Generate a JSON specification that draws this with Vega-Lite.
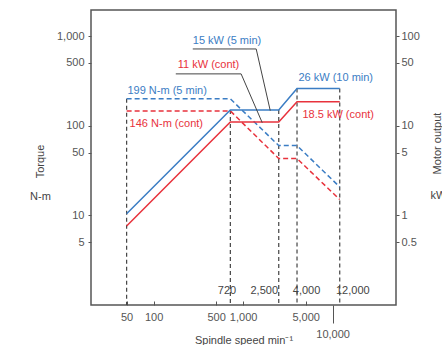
{
  "$schema": "https://vega.github.io/schema/vega-lite/v6.json",
  "width": 305,
  "height": 295,
  "autosize": {"type": "none"},
  "padding": {"left": 91, "top": 10, "right": 46, "bottom": 40},
  "config": {
    "font": "Liberation Sans",
    "view": {"stroke": "#555", "strokeWidth": 1.5},
    "axis": {
      "grid": false,
      "domain": false,
      "labelFont": "Liberation Sans",
      "labelFontSize": 11,
      "labelColor": "#555",
      "tickColor": "#555",
      "titleFont": "Liberation Sans",
      "titleFontSize": 11,
      "titleFontWeight": "normal",
      "titleColor": "#444"
    }
  },
  "datasets": {
    "vlines": [
      {"x": 50, "top": 199},
      {"x": 720, "top": 150},
      {"x": 2500, "top": 150},
      {"x": 4000, "top": 260},
      {"x": 12000, "top": 260}
    ],
    "torque": [
      {"x": 50, "y": 199, "series": "5 min"},
      {"x": 720, "y": 199, "series": "5 min"},
      {"x": 2500, "y": 60, "series": "5 min"},
      {"x": 4000, "y": 60, "series": "5 min"},
      {"x": 12000, "y": 20.7, "series": "5 min"},
      {"x": 50, "y": 146, "series": "cont"},
      {"x": 720, "y": 146, "series": "cont"},
      {"x": 2500, "y": 43, "series": "cont"},
      {"x": 4000, "y": 43, "series": "cont"},
      {"x": 12000, "y": 15, "series": "cont"}
    ],
    "power": [
      {"x": 50, "kw": 1.04, "series": "5 min"},
      {"x": 720, "kw": 15, "series": "5 min"},
      {"x": 2500, "kw": 15, "series": "5 min"},
      {"x": 4000, "kw": 26, "series": "5 min"},
      {"x": 12000, "kw": 26, "series": "5 min"},
      {"x": 50, "kw": 0.76, "series": "cont"},
      {"x": 720, "kw": 11, "series": "cont"},
      {"x": 2500, "kw": 11, "series": "cont"},
      {"x": 4000, "kw": 18.5, "series": "cont"},
      {"x": 12000, "kw": 18.5, "series": "cont"}
    ],
    "leaders": [
      {"id": "a", "x": 274, "y": 717, "o": 1},
      {"id": "a", "x": 1400, "y": 717, "o": 2},
      {"id": "a", "x": 2010, "y": 147, "o": 3},
      {"id": "b", "x": 177, "y": 378, "o": 1},
      {"id": "b", "x": 950, "y": 378, "o": 2},
      {"id": "b", "x": 1635, "y": 108, "o": 3}
    ],
    "notes": [
      {"x": 274, "y": 880, "label": "15 kW (5 min)", "series": "5 min"},
      {"x": 186, "y": 476, "label": "11 kW (cont)", "series": "cont"},
      {"x": 51, "y": 245, "label": "199 N-m (5 min)", "series": "5 min"},
      {"x": 54, "y": 105, "label": "146 N-m (cont)", "series": "cont"},
      {"x": 4150, "y": 341, "label": "26 kW (10 min)", "series": "5 min"},
      {"x": 4600, "y": 132, "label": "18.5 kW (cont)", "series": "cont"}
    ],
    "speeds": [
      {"x": 661, "y": 1.43, "label": "720"},
      {"x": 1722, "y": 1.43, "label": "2,500"},
      {"x": 5110, "y": 1.43, "label": "4,000"},
      {"x": 16800, "y": 1.43, "label": "12,000"}
    ]
  },
  "layer": [
    {
      "data": {"name": "vlines"},
      "mark": {"type": "rule", "color": "#444", "strokeWidth": 1.2, "strokeDash": [4, 3]},
      "encoding": {
        "x": {
          "field": "x", "type": "quantitative",
          "scale": {"type": "log", "domain": [20, 51000]},
          "axis": {
            "values": [50, 100, 500, 1000, 5000, 10000],
            "format": ",~r",
            "tickSize": {"condition": {"test": "datum.value === 10000", "value": 18}, "value": -4},
            "labelPadding": {"condition": {"test": "datum.value === 10000", "value": 5}, "value": 10},
            "labelFlush": false,
            "labelOverlap": false,
            "title": "Spindle speed min⁻¹",
            "titleY": 35,
            "titleBaseline": "middle"
          }
        },
        "y": {
          "field": "top", "type": "quantitative",
          "scale": {"type": "log", "domain": [1, 1950]},
          "axis": {
            "orient": "left",
            "title": "N-m",
            "labels": false,
            "ticks": false,
            "titleAngle": 0,
            "titleX": -51,
            "titleY": 186,
            "titleAlign": "center",
            "titleBaseline": "middle"
          }
        },
        "y2": {"datum": 1}
      }
    },
    {
      "data": {"name": "torque"},
      "mark": {"type": "line", "strokeWidth": 1.5, "strokeDash": [5, 3]},
      "encoding": {
        "x": {"field": "x", "type": "quantitative", "scale": {"type": "log", "domain": [20, 51000]}},
        "y": {
          "field": "y", "type": "quantitative",
          "scale": {"type": "log", "domain": [1, 1950]},
          "axis": {
            "orient": "left",
            "values": [5, 10, 50, 100, 500, 1000],
            "format": ",~r",
            "tickSize": 3,
            "labelPadding": 4,
            "title": "Torque",
            "titleAngle": -90,
            "titleX": -51,
            "titleY": 151,
            "titleAlign": "center",
            "titleBaseline": "middle"
          }
        },
        "color": {
          "field": "series", "type": "nominal",
          "scale": {"domain": ["5 min", "cont"], "range": ["#3b7dc4", "#e8323c"]},
          "legend": null
        }
      }
    },
    {
      "data": {"name": "power"},
      "mark": {"type": "line", "strokeWidth": 1.5},
      "encoding": {
        "x": {"field": "x", "type": "quantitative", "scale": {"type": "log", "domain": [20, 51000]}},
        "y": {
          "field": "kw", "type": "quantitative",
          "scale": {"type": "log", "domain": [0.1, 195]},
          "axis": {
            "orient": "right",
            "values": [0.5, 1, 5, 10, 50, 100],
            "format": ",~r",
            "tickSize": 3,
            "labelPadding": 2,
            "title": "Motor output",
            "titleAngle": -90,
            "titleX": 41,
            "titleY": 133,
            "titleAlign": "center",
            "titleBaseline": "middle"
          }
        },
        "color": {"field": "series", "type": "nominal", "legend": null}
      }
    },
    {
      "data": {"name": "leaders"},
      "mark": {"type": "line", "color": "#444", "strokeWidth": 1},
      "encoding": {
        "x": {"field": "x", "type": "quantitative", "scale": {"type": "log", "domain": [20, 51000]}},
        "y": {
          "field": "y", "type": "quantitative",
          "scale": {"type": "log", "domain": [1, 1950]},
          "axis": {
            "orient": "right",
            "title": "kW",
            "labels": false,
            "ticks": false,
            "titleAngle": 0,
            "titleX": 34,
            "titleY": 185,
            "titleAlign": "left",
            "titleBaseline": "middle"
          }
        },
        "detail": {"field": "id", "type": "nominal"},
        "order": {"field": "o", "type": "quantitative"}
      }
    },
    {
      "data": {"name": "notes"},
      "mark": {"type": "text", "align": "left", "baseline": "middle", "fontSize": 11},
      "encoding": {
        "x": {"field": "x", "type": "quantitative", "scale": {"type": "log", "domain": [20, 51000]}},
        "y": {"field": "y", "type": "quantitative", "scale": {"type": "log", "domain": [1, 1950]}, "axis": null},
        "text": {"field": "label", "type": "nominal"},
        "color": {"field": "series", "type": "nominal", "legend": null}
      }
    },
    {
      "data": {"name": "speeds"},
      "mark": {"type": "text", "align": "center", "baseline": "middle", "fontSize": 11, "color": "#444"},
      "encoding": {
        "x": {"field": "x", "type": "quantitative", "scale": {"type": "log", "domain": [20, 51000]}},
        "y": {"field": "y", "type": "quantitative", "scale": {"type": "log", "domain": [1, 1950]}, "axis": null},
        "text": {"field": "label", "type": "nominal"}
      }
    }
  ],
  "resolve": {"scale": {"y": "independent"}, "axis": {"y": "independent"}}
}
